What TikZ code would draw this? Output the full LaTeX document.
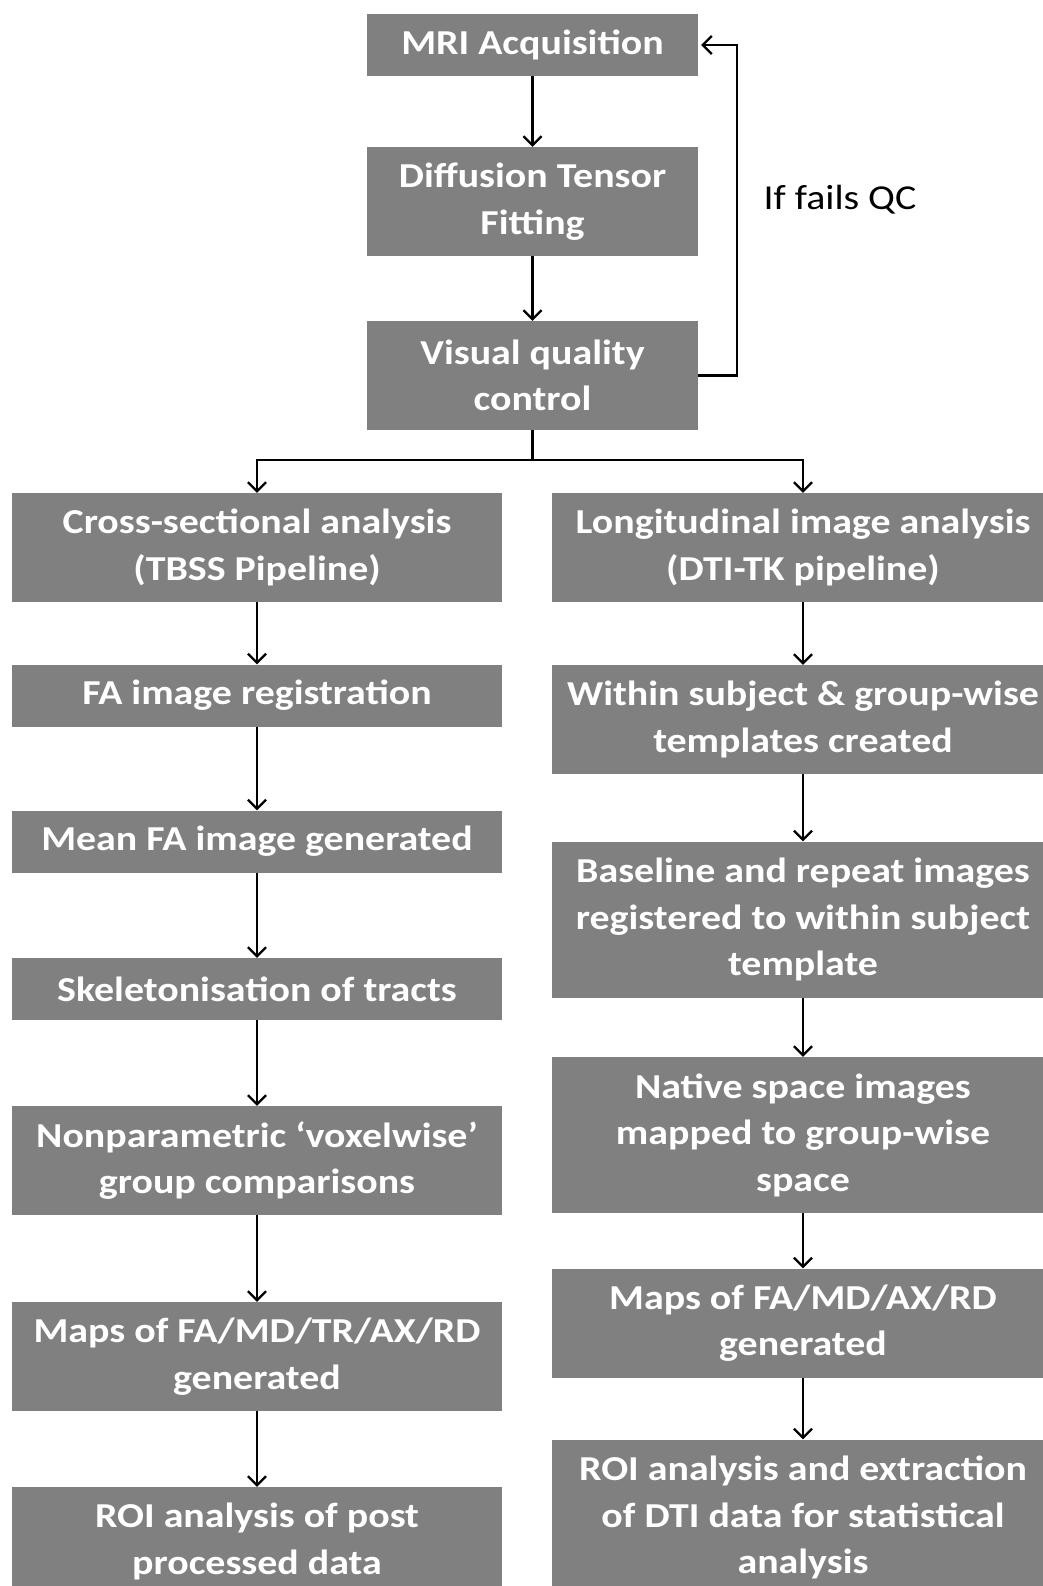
\documentclass[tikz,border=0pt]{standalone}
\usepackage{fontspec}
\setmainfont{Carlito}[FakeStretch=1.14]
\usetikzlibrary{arrows.meta}
\definecolor{boxgray}{HTML}{808080}

\tikzset{
  stage/.style={fill=boxgray, text=white, inner sep=0pt, align=center,
    font=\fontsize{35}{46.5}\selectfont\bfseries},
  leftstage/.style={stage, minimum width=490pt},
  rightstage/.style={stage, minimum width=502pt},
  flow/.style={line width=2.3pt, -{Straight Barb[length=9pt,width=18pt,line width=2.3pt]}}
}

\begin{document}
\begin{tikzpicture}[x=1pt,y=-1pt]
  \useasboundingbox (0,0) rectangle (1042,1586);

  \node[stage, minimum width=331pt, minimum height=62pt] (mri) at (532.5,45) {MRI Acquisition};
  \node[stage, minimum width=331pt, minimum height=109pt] (fit) at (532.5,201.5) {Diffusion Tensor\\Fitting};
  \node[stage, minimum width=331pt, minimum height=109pt] (qc) at (532.5,375.5) {Visual quality\\control};

  \node[leftstage, minimum height=109pt] (cross) at (257,547.5) {Cross-sectional analysis\\(TBSS Pipeline)};
  \node[leftstage, minimum height=62pt] (fareg) at (257,695.5) {FA image registration};
  \node[leftstage, minimum height=62pt] (meanfa) at (257,841.5) {Mean FA image generated};
  \node[leftstage, minimum height=62pt] (skel) at (257,989) {Skeletonisation of tracts};
  \node[leftstage, minimum height=109pt] (nonpar) at (257,1160.5) {Nonparametric ‘voxelwise’\\group comparisons};
  \node[leftstage, minimum height=109pt] (mapsl) at (257,1356.5) {Maps of FA/MD/TR/AX/RD\\generated};
  \node[leftstage, minimum height=109pt] (roil) at (257,1541.5) {ROI analysis of post\\processed data};

  \node[rightstage, minimum height=109pt] (longi) at (803,547.5) {Longitudinal image analysis\\(DTI-TK pipeline)};
  \node[rightstage, minimum height=109pt] (templ) at (803,719.5) {Within subject \& group-wise\\templates created};
  \node[rightstage, minimum height=156pt] (reg) at (803,919.5) {Baseline and repeat images\\registered to within subject\\template};
  \node[rightstage, minimum height=156pt] (native) at (803,1135) {Native space images\\mapped to group-wise\\space};
  \node[rightstage, minimum height=109pt] (mapsr) at (803,1323) {Maps of FA/MD/AX/RD\\generated};
  \node[rightstage, minimum height=156pt] (roir) at (803,1517.5) {ROI analysis and extraction\\of DTI data for statistical\\analysis};

  \node[font=\fontsize{35}{42}\selectfont] (fails) at (840,200) {If fails QC};

  \coordinate (loop) at (737,45);
  \coordinate (split) at (532.5,460.3);

  \draw[flow] (mri) -- (fit);
  \draw[flow] (fit) -- (qc);
  \draw[flow] (qc.east) -| (loop) -- ([xshift=3pt]mri.east);
  \draw[line width=2.3pt] (qc) -- (split);
  \draw[flow] (split) -| (cross.north);
  \draw[flow] (split) -| (longi.north);

  \draw[flow] (cross) -- (fareg);
  \draw[flow] (fareg) -- (meanfa);
  \draw[flow] (meanfa) -- (skel);
  \draw[flow] (skel) -- (nonpar);
  \draw[flow] (nonpar) -- (mapsl);
  \draw[flow] (mapsl) -- (roil);

  \draw[flow] (longi) -- (templ);
  \draw[flow] (templ) -- (reg);
  \draw[flow] (reg) -- (native);
  \draw[flow] (native) -- (mapsr);
  \draw[flow] (mapsr) -- (roir);
\end{tikzpicture}
\end{document}
